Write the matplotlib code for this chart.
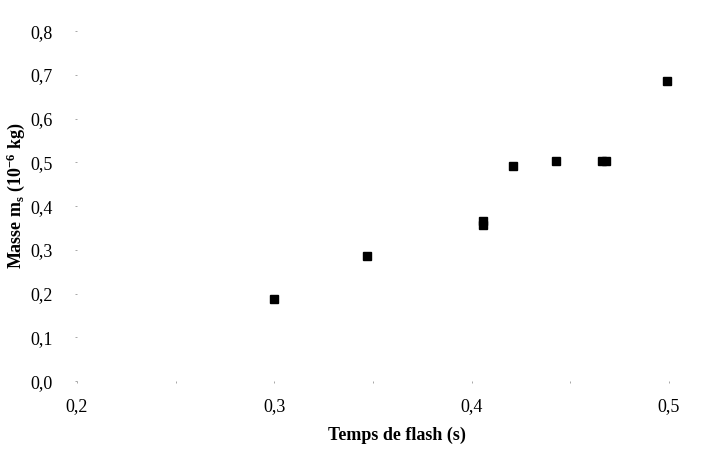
import matplotlib
matplotlib.use("Agg")
import matplotlib.pyplot as plt
from matplotlib.ticker import FuncFormatter

# flash time (s) and mass ms (1e-6 kg)
temps = [0.300, 0.347, 0.406, 0.406, 0.421, 0.443, 0.466, 0.468, 0.499]
masse = [0.188, 0.285, 0.356, 0.366, 0.491, 0.502, 0.502, 0.502, 0.685]

x_ticks = [0.2, 0.3, 0.4, 0.5]
x_minor = [0.25, 0.35, 0.45]
y_ticks = [0.0, 0.1, 0.2, 0.3, 0.4, 0.5, 0.6, 0.7, 0.8]

plt.rcParams['font.family'] = ['Liberation Serif', 'DejaVu Serif']
plt.rcParams['mathtext.fontset'] = 'custom'
plt.rcParams['mathtext.rm'] = 'Liberation Serif'
plt.rcParams['mathtext.bf'] = 'Liberation Serif:bold'
plt.rcParams['mathtext.it'] = 'Liberation Serif:bold'

fig = plt.figure(figsize=(7.23, 4.51), dpi=100)
ax = fig.add_axes([0.1065, 0.155, 0.8185, 0.776])

ax.plot(temps, masse, linestyle='none', marker='s', markersize=5.5,
        color='black', markeredgecolor='black', clip_on=False)

ax.set_xlim(0.2, 0.5)
ax.set_ylim(0.0, 0.8)
ax.set_xticks(x_ticks)
ax.set_xticks(x_minor, minor=True)
ax.set_yticks(y_ticks)

comma = FuncFormatter(lambda v, p: ('%.1f' % v).replace('.', ','))
ax.xaxis.set_major_formatter(comma)
ax.yaxis.set_major_formatter(comma)

for s in ax.spines.values():
    s.set_visible(False)
ax.tick_params(axis='both', which='both', length=1.5, width=0.6,
               color='#999999', labelsize=13, direction='out')
ax.tick_params(axis='y', pad=16)
ax.tick_params(axis='x', pad=11)

ax.set_xlabel('Temps de flash (s)', fontsize=13, fontweight='bold')
ax.xaxis.set_label_coords(0.54, -0.13)
ax.set_ylabel(r'Masse m$_\mathbf{s}$ (10$^{\mathbf{-6}}$ kg)', fontsize=13,
              fontweight='bold')
ax.yaxis.set_label_coords(-0.085, 0.53)

fig.savefig('out.png', dpi=100)
